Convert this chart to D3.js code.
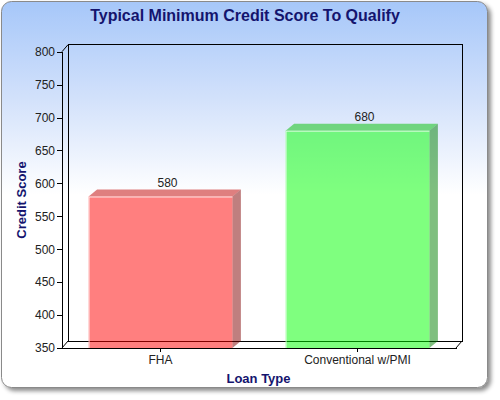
<!DOCTYPE html>
<html>
<head>
<meta charset="utf-8">
<script src="https://cdn.jsdelivr.net/npm/d3@7"></script>
<style>
  body { margin: 0; background: #fff; }
  svg { display: block; }
</style>
</head>
<body>
<div id="chart"></div>
<script>
// chart data
const categories = ["FHA", "Conventional w/PMI"];
const scores = [580, 680];
const yTicks = [350, 400, 450, 500, 550, 600, 650, 700, 750, 800];
const title = "Typical Minimum Credit Score To Qualify";
const xTitle = "Loan Type";
const yTitle = "Credit Score";

// bar faces: front, top, side
const barColors = [
  { front: "#ff0000", top: "#c00000", side: "#800000" },
  { front: "#00ff00", top: "#00c000", side: "#008000" }
];

const width = 500, height = 400;
const plot = { left: 62, right: 456, top: 51.7, bottom: 348 };
const wall = { dx: 6, dy: 7 };   // 3d depth of the back wall
const bar3d = { dx: 8.5, dy: 7 }; // 3d depth of each bar
const font = "'Liberation Sans', Arial, sans-serif";

const svg = d3.select("#chart").append("svg")
  .attr("width", width)
  .attr("height", height);

const defs = svg.append("defs");
const grad = defs.append("linearGradient")
  .attr("id", "bg").attr("x1", 0).attr("y1", 0).attr("x2", 0).attr("y2", 1);
grad.append("stop").attr("offset", "0%").attr("stop-color", "#a6c7f9");
grad.append("stop").attr("offset", "25%").attr("stop-color", "#d2e1fb");
grad.append("stop").attr("offset", "50%").attr("stop-color", "#ffffff");
grad.append("stop").attr("offset", "100%").attr("stop-color", "#ffffff");

const shadow = defs.append("filter").attr("id", "shadow")
  .attr("x", "-5%").attr("y", "-5%").attr("width", "115%").attr("height", "115%");
shadow.append("feDropShadow")
  .attr("dx", 3).attr("dy", 3).attr("stdDeviation", 2)
  .attr("flood-color", "#000").attr("flood-opacity", 0.45);

// frame
svg.append("rect")
  .attr("x", 1.5).attr("y", 1.5)
  .attr("width", 486).attr("height", 386)
  .attr("rx", 10).attr("ry", 10)
  .attr("fill", "url(#bg)")
  .attr("stroke", "#8a8a8a")
  .attr("filter", "url(#shadow)");

// scales
const x = d3.scaleBand()
  .domain(categories)
  .range([plot.left, plot.right])
  .paddingInner(0.27)
  .paddingOuter(0.135);

const y = d3.scaleLinear()
  .domain([350, 800])
  .range([plot.bottom, plot.top]);

// back wall + 3d edges
const lines = svg.append("g")
  .attr("stroke", "#000")
  .attr("fill", "none")
  .attr("stroke-width", 1);

const bx0 = plot.left + wall.dx, bx1 = plot.right + wall.dx;
const by0 = plot.top - wall.dy, by1 = plot.bottom - wall.dy;

lines.append("path")
  .attr("d", `M${bx0},${by1}V${by0}H${bx1}V${by1}H${bx0}`)
  .attr("shape-rendering", "crispEdges");
lines.append("path")
  .attr("d", `M${plot.left},${plot.top}L${bx0},${by0}` +
             `M${plot.left},${plot.bottom}L${bx0},${by1}` +
             `M${plot.right},${plot.bottom}L${bx1},${by1}`);

// bars
const bars = svg.append("g").selectAll("g")
  .data(scores)
  .join("g");

bars.each(function(d, i) {
  const g = d3.select(this);
  const x0 = x(categories[i]);
  const x1 = x0 + x.bandwidth();
  const yt = y(d);
  const yb = y(350);
  const c = barColors[i];

  g.append("path")
    .attr("d", `M${x0},${yt}L${x0 + bar3d.dx},${yt - bar3d.dy}L${x1 + bar3d.dx},${yt - bar3d.dy}L${x1},${yt}Z`)
    .attr("fill", c.top).attr("fill-opacity", 0.5);
  g.append("path")
    .attr("d", `M${x1},${yt}L${x1 + bar3d.dx},${yt - bar3d.dy}L${x1 + bar3d.dx},${yb - bar3d.dy}L${x1},${yb}Z`)
    .attr("fill", c.side).attr("fill-opacity", 0.5);
  g.append("rect")
    .attr("x", x0).attr("y", yt)
    .attr("width", x.bandwidth())
    .attr("height", yb - yt)
    .attr("fill", c.front).attr("fill-opacity", 0.5);
  // light edge highlight
  g.append("path")
    .attr("d", `M${x0 + 0.5},${yb}V${yt + 0.5}H${x1}`)
    .attr("stroke", "#fff").attr("stroke-opacity", 0.7)
    .attr("fill", "none");
});

// value labels
svg.append("g").selectAll("text")
  .data(scores)
  .join("text")
  .attr("x", (d, i) => x(categories[i]) + x.bandwidth() / 2 + 7)
  .attr("y", d => y(d) - bar3d.dy - 3)
  .attr("text-anchor", "middle")
  .attr("font-family", font)
  .attr("font-size", 12)
  .attr("fill", "#222")
  .text(d => d);

// axes
const yAxis = svg.append("g")
  .attr("transform", `translate(${plot.left},0)`)
  .call(d3.axisLeft(y).tickValues(yTicks).tickSize(5).tickSizeOuter(0).tickPadding(2));

const xAxis = svg.append("g")
  .attr("transform", `translate(0,${plot.bottom})`)
  .call(d3.axisBottom(x).tickSize(4).tickSizeOuter(0).tickPadding(3));

[yAxis, xAxis].forEach(a => {
  a.selectAll("text")
    .attr("font-family", font)
    .attr("font-size", 12)
    .attr("fill", "#222");
  a.selectAll("path, line").attr("stroke", "#000").attr("shape-rendering", "crispEdges");
});

// titles
svg.append("text")
  .attr("x", 245).attr("y", 21)
  .attr("text-anchor", "middle")
  .attr("font-family", font)
  .attr("font-size", 16)
  .attr("font-weight", "bold")
  .attr("fill", "#14146e")
  .text(title);

svg.append("text")
  .attr("x", 258.5).attr("y", 383)
  .attr("text-anchor", "middle")
  .attr("font-family", font)
  .attr("font-size", 13)
  .attr("font-weight", "bold")
  .attr("fill", "#14146e")
  .text(xTitle);

svg.append("text")
  .attr("transform", "translate(26,200) rotate(-90)")
  .attr("text-anchor", "middle")
  .attr("font-family", font)
  .attr("font-size", 13)
  .attr("font-weight", "bold")
  .attr("fill", "#14146e")
  .text(yTitle);
</script>
</body>
</html>
